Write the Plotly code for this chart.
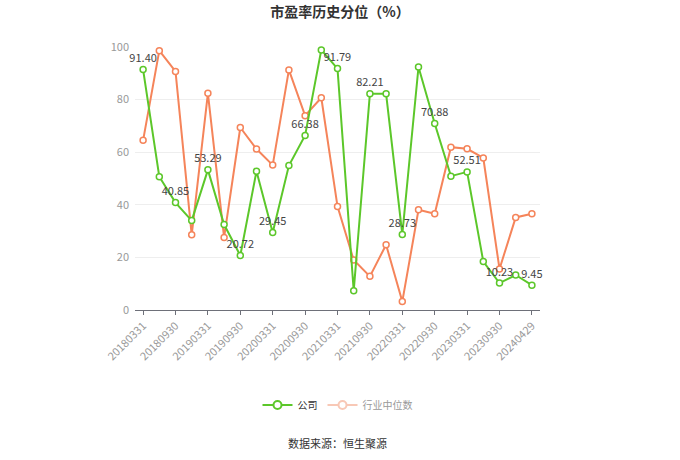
import plotly.graph_objects as go

categories = ["20180331", "20180630", "20180930", "20181231",
              "20190331", "20190630", "20190930", "20191231",
              "20200331", "20200630", "20200930", "20201231",
              "20210331", "20210630", "20210930", "20211231",
              "20220331", "20220630", "20220930", "20221231",
              "20230331", "20230630", "20230930", "20231231",
              "20240429"]
company = [91.40, 50.7, 40.85, 34.0, 53.29, 32.5, 20.72, 52.8, 29.45, 54.9,
           66.38, 98.9, 91.79, 7.3, 82.21, 82.2, 28.73, 92.4, 70.88, 50.9,
           52.51, 18.4, 10.23, 13.3, 9.45]
industry = [64.5, 98.6, 90.7, 28.6, 82.4, 27.6, 69.4, 61.2, 55.1, 91.3,
            73.9, 80.7, 39.4, 19.0, 12.8, 24.8, 3.2, 38.1, 36.6, 61.9,
            61.3, 57.8, 15.6, 35.2, 36.6]
label_idx = list(range(0, 25, 2))

green = "#5cc72a"
orange = "#f5845a"
font = "Noto Sans CJK SC, Noto Sans, sans-serif"

fig = go.Figure()
fig.add_trace(go.Scatter(
    x=categories, y=industry, mode="lines+markers", name="行业中位数",
    line=dict(color=orange, width=2),
    marker=dict(symbol="circle", size=6, color="white", line=dict(color=orange, width=1.5)),
    showlegend=False, cliponaxis=False))
texts = [f"{v:.2f}" if i in label_idx else "" for i, v in enumerate(company)]
fig.add_trace(go.Scatter(
    x=categories, y=company, mode="lines+markers+text", name="公司",
    line=dict(color=green, width=2),
    marker=dict(symbol="circle", size=6, color="white", line=dict(color=green, width=1.5)),
    text=texts, textposition="top center",
    textfont=dict(size=11, color="#444", family=font),
    showlegend=False, cliponaxis=False))
# legend entries
fig.add_trace(go.Scatter(
    x=[None], y=[None], mode="lines+markers", name="公司",
    line=dict(color=green, width=2),
    marker=dict(symbol="circle", size=8, color="white", line=dict(color=green, width=2))))
fig.add_trace(go.Scatter(
    x=[None], y=[None], mode="lines+markers", name="<span style='color:#999'>行业中位数</span>",
    line=dict(color="#f8c8b6", width=2),
    marker=dict(symbol="circle", size=8, color="white", line=dict(color="#f8c8b6", width=2))))

fig.update_layout(
    width=680, height=460,
    margin=dict(l=135, r=140, t=47, b=150, autoexpand=False),
    paper_bgcolor="white", plot_bgcolor="white",
    font=dict(family=font, size=11, color="#999"),
    title=dict(text="<b>市盈率历史分位（%）</b>", x=0.5, xanchor="center", y=0.973, yanchor="middle",
               font=dict(size=14, color="#333", family=font)),
    legend=dict(orientation="h", x=0.5, xanchor="center", y=-0.361, yanchor="middle",
                font=dict(size=10, color="#333", family=font), itemwidth=30),
    xaxis=dict(type="category", categoryorder="array", categoryarray=categories,
               range=[-0.5, 24.5], tickmode="array", automargin=False,
               tickvals=[categories[i] for i in label_idx],
               ticktext=[categories[i] for i in label_idx],
               tickangle=-45, showgrid=False, showline=True, linecolor="#6e7079",
               ticks="outside", ticklen=4, tickcolor="#6e7079",
               tickfont=dict(size=11, color="#999")),
    yaxis=dict(range=[0, 100], dtick=20, showgrid=True, gridcolor="#eeeeee", automargin=False,
               zeroline=False, showline=False, tickfont=dict(size=11, color="#999"),
               ticksuffix="  "),
    annotations=[dict(text="数据来源：恒生聚源", x=0.5, xref="paper", y=-0.506, yref="paper",
                      xanchor="center", yanchor="middle", showarrow=False,
                      font=dict(size=11, color="#333", family=font))],
)
fig.write_html("out.html", config={"displayModeBar": False},
               post_script="document.body.style.margin='0';")
